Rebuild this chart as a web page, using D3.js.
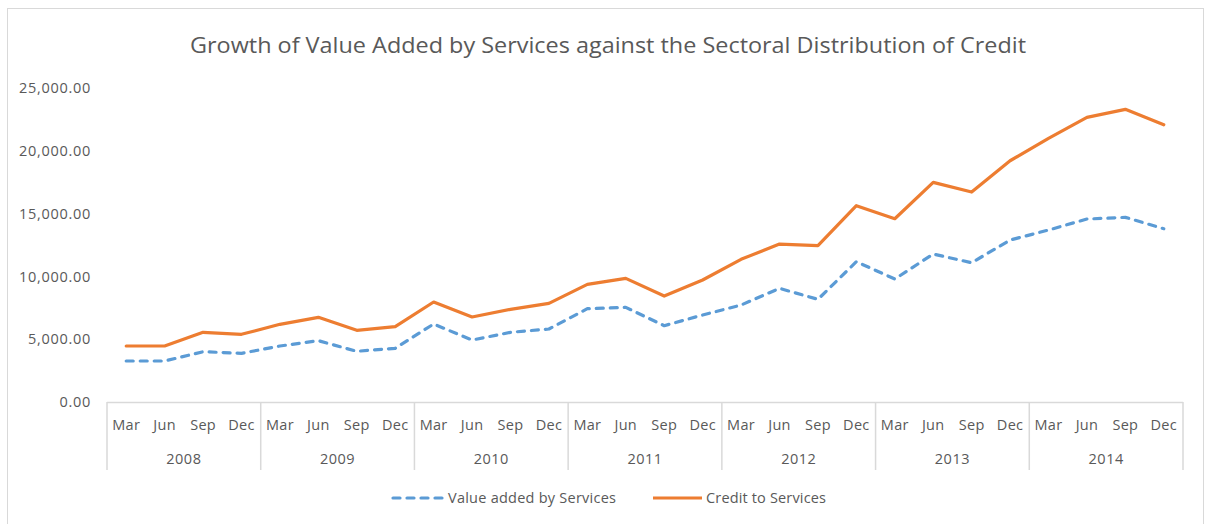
<!DOCTYPE html>
<html><head><meta charset="utf-8">
<script src="https://cdn.jsdelivr.net/npm/d3@7"></script>
<style>
html,body{margin:0;padding:0;background:#fff;}
svg{display:block;font-family:"Open Sans","Noto Sans",sans-serif;}
</style></head>
<body>
<svg id="c" width="1214" height="524"></svg>
<script>
const years = ["2008","2009","2010","2011","2012","2013","2014"];
const months = ["Mar","Jun","Sep","Dec"];
const valueAdded = [3264,3264,4004,3876, 4458,4880,4036,4275, 6209,4935,5548,5811,
  7430,7536,6076,6925, 7721,9049,8173,11169, 9791,11781,11088,12895, 13691,14567,14702,13795];
const credit = [4458,4458,5548,5389, 6185,6742,5707,5994, 7960,6766,7379,7856,
  9368,9846,8438,9711, 11358,12577,12444,15628, 14591,17488,16716,19208, 20990,22662,23300,22073];
const yTicks = [0,5000,10000,15000,20000,25000];
const seriesNames = ["Value added by Services","Credit to Services"];

(function(){
const svg = d3.select("#c");
const grey = "#595959";
svg.append("rect").attr("x",7.5).attr("y",8.5).attr("width",1196).attr("height",530)
  .attr("fill","#fff").attr("stroke","#d9d9d9").attr("stroke-width",1);

const pL = 107, pR = 1183, pT = 88, pB = 402;
const cats = [];
years.forEach(yr => months.forEach(m => cats.push(yr+"-"+m)));
const x = d3.scaleBand().domain(cats).range([pL,pR]);
const y = d3.scaleLinear().domain([0,25000]).range([pB,pT]);

svg.append("text").attr("x",608).attr("y",53).attr("text-anchor","middle")
  .attr("fill",grey).attr("font-size",22.5).attr("textLength",836).attr("lengthAdjust","spacingAndGlyphs")
  .text("Growth of Value Added by Services against the Sectoral Distribution of Credit");

const fmt = d3.format(",.2f");
const yAxis = d3.axisLeft(y).tickValues(yTicks).tickFormat(fmt).tickSize(0).tickPadding(0);
const gy = svg.append("g").attr("transform","translate(91,0)").call(yAxis);
gy.select(".domain").remove();
gy.selectAll("text").attr("fill",grey).attr("font-size",14.5).attr("font-family","'Open Sans',sans-serif")
  .attr("letter-spacing","0.7px").attr("dy","0.32em");

const gx = svg.append("g");
gx.append("line").attr("x1",pL).attr("x2",pR).attr("y1",pB+0.5).attr("y2",pB+0.5)
  .attr("stroke","#d9d9d9").attr("stroke-width",1.5);
years.forEach((yr)=>{
  const x0 = x(yr+"-Mar");
  gx.append("line").attr("x1",x0).attr("x2",x0).attr("y1",pB).attr("y2",470)
    .attr("stroke","#d9d9d9").attr("stroke-width",1.5);
  const xEnd = x(yr+"-Dec")+x.bandwidth();
  gx.append("text").attr("x",(x0+xEnd)/2).attr("y",459).attr("dy","0.35em").attr("text-anchor","middle")
    .attr("fill",grey).attr("font-size",14.5).attr("letter-spacing","0.5px").text(yr);
});
gx.append("line").attr("x1",pR).attr("x2",pR).attr("y1",pB).attr("y2",470)
  .attr("stroke","#d9d9d9").attr("stroke-width",1.5);
cats.forEach(c=>{
  gx.append("text").attr("x",x(c)+x.bandwidth()/2).attr("y",425).attr("dy","0.35em")
    .attr("text-anchor","middle").attr("fill",grey).attr("font-size",14.5).attr("letter-spacing","0.3px").text(c.split("-")[1]);
});

const line = d3.line().x((d,i)=>x(cats[i])+x.bandwidth()/2).y(d=>y(d));
svg.append("path").datum(credit).attr("d",line).attr("fill","none")
  .attr("stroke","#ED7D31").attr("stroke-width",3.2).attr("stroke-linejoin","round").attr("stroke-linecap","round");
svg.append("path").datum(valueAdded).attr("d",line).attr("fill","none")
  .attr("stroke","#5B9BD5").attr("stroke-width",3.2).attr("stroke-dasharray","7,7")
  .attr("stroke-linejoin","round").attr("stroke-linecap","round");

const lg = svg.append("g");
lg.append("line").attr("x1",393).attr("x2",444).attr("y1",498).attr("y2",498)
  .attr("stroke","#5B9BD5").attr("stroke-width",3.2).attr("stroke-dasharray","7,7").attr("stroke-linecap","round");
lg.append("text").attr("x",448).attr("y",498).attr("dy","0.35em").attr("fill",grey).attr("font-size",14.5)
  .attr("textLength",168).attr("lengthAdjust","spacing").text(seriesNames[0]);
lg.append("line").attr("x1",653).attr("x2",702).attr("y1",498).attr("y2",498)
  .attr("stroke","#ED7D31").attr("stroke-width",3.2);
lg.append("text").attr("x",706).attr("y",498).attr("dy","0.35em").attr("fill",grey).attr("font-size",14.5)
  .attr("textLength",120).attr("lengthAdjust","spacing").text(seriesNames[1]);
})();
</script>
</body></html>
